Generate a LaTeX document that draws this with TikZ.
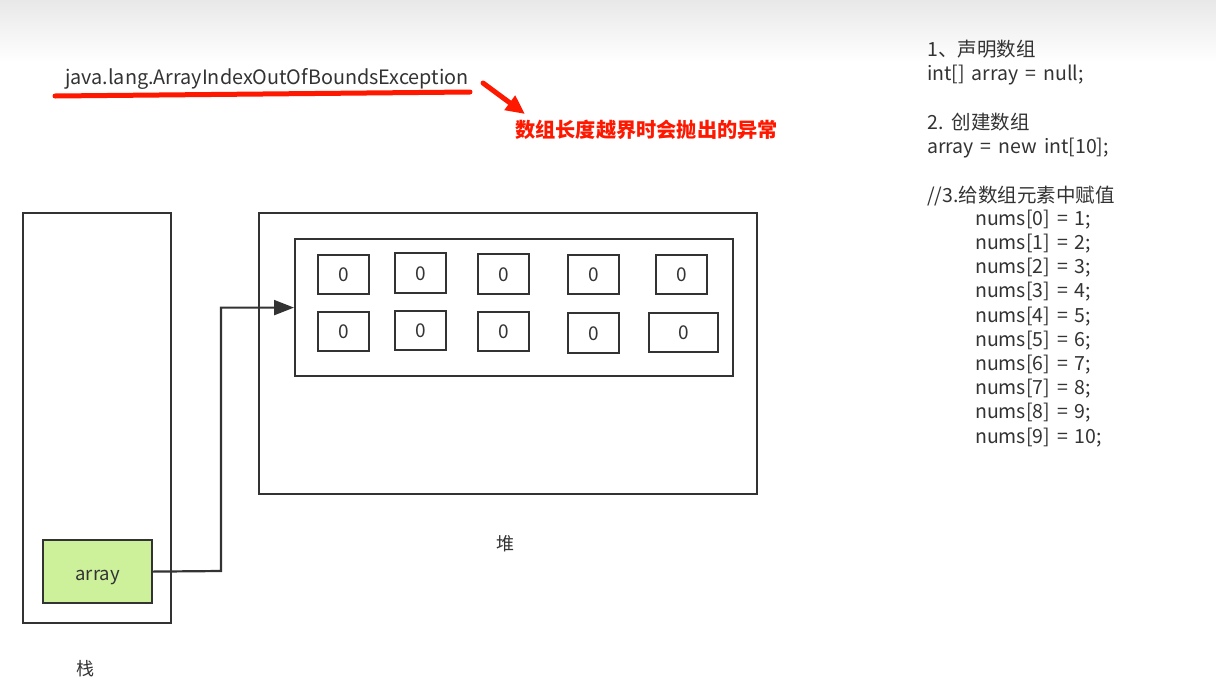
\documentclass[tikz,border=0pt]{standalone}
\usepackage{fontspec}
\setmainfont{Noto Sans CJK SC}
\newfontfamily\codefont[WordSpace=1.6]{Noto Sans CJK SC}
\usetikzlibrary{arrows.meta}
\definecolor{ink}{HTML}{333333}
\definecolor{redm}{HTML}{FF1800}
\definecolor{greenfill}{HTML}{CDF09B}
\tikzset{
  box/.style={draw=ink, line width=2.2pt, anchor=north west, inner sep=0pt},
  cell/.style={draw=ink, line width=2.2pt, anchor=north west, inner sep=0pt, font=\fontsize{19pt}{19pt}\selectfont, text=ink, text height=14pt, text depth=0pt},
  codetxt/.style={anchor=base west, inner sep=0pt, text=ink, font=\codefont\fontsize{19.5pt}{19.5pt}\selectfont},
  label/.style={inner sep=0pt, text=ink, font=\fontsize{18pt}{18pt}\selectfont},
}
\begin{document}
\begin{tikzpicture}[x=1pt,y=-1pt]
\useasboundingbox (0,0) rectangle (1216,694);
\fill[white] (0,0) rectangle (1216,694);
\shade[top color=black!9, bottom color=white] (0,0) rectangle (1216,62);

% exception text
\node[anchor=base west, inner sep=0pt, text=ink, font=\fontsize{19.8pt}{19.8pt}\selectfont] (exc) at (65,84) {java.lang.ArrayIndexOutOfBoundsException};
\coordinate (ul1) at (55,96);
\coordinate (ul2) at (470,92);
\draw[redm, line width=5pt, line cap=round] (ul1) -- (ul2);
\coordinate (ra1) at (483,83);
\coordinate (ra2) at (525,114);
\draw[redm, line width=5pt, line cap=round, -{Triangle[length=19pt,width=17pt]}] (ra1) -- (ra2);
\node[anchor=base west, inner sep=0pt, text=redm, font=\fontsize{20.2pt}{20.2pt}\selectfont\bfseries] (note) at (515,137) {数组长度越界时会抛出的异常};

% stack
\node[box, minimum width=148pt, minimum height=410pt] (stack) at (22,212) {};
\node[box, fill=greenfill, minimum width=109pt, minimum height=63pt, font=\fontsize{18.5pt}{18.5pt}\selectfont, text=ink, text height=17pt, text depth=0pt] (arr) at (42,539) {array};
\node[label] (stacklbl) at (85,669) {栈};

% heap
\node[box, minimum width=498pt, minimum height=281pt] (heap) at (258,212) {};
\node[box, minimum width=438pt, minimum height=137pt] (inner) at (294,238) {};
\node[label] (heaplbl) at (505,544) {堆};

% cells
\node[cell, minimum width=51pt, minimum height=39pt] (c0) at (317,254) {0};
\node[cell, minimum width=51pt, minimum height=40pt] (c1) at (394,252) {0};
\node[cell, minimum width=51pt, minimum height=40pt] (c2) at (477,253) {0};
\node[cell, minimum width=51pt, minimum height=39pt] (c3) at (567,254) {0};
\node[cell, minimum width=51pt, minimum height=39pt] (c4) at (655,254) {0};
\node[cell, minimum width=51pt, minimum height=39pt] (c5) at (317,311) {0};
\node[cell, minimum width=51pt, minimum height=39pt] (c6) at (394,310) {0};
\node[cell, minimum width=51pt, minimum height=39pt] (c7) at (477,311) {0};
\node[cell, minimum width=51pt, minimum height=40pt] (c8) at (567,312) {0};
\node[cell, minimum width=69pt, minimum height=39pt] (c9) at (648,312) {0};

% reference arrow
\coordinate (bend) at (221,571);
\draw[ink, line width=2.2pt, -{Triangle[length=20pt,width=15pt]}] (arr.east) -- (bend) |- (inner.west);

% code text
\node[codetxt] (t1) at (927,56) {1、声明数组};
\node[codetxt] (t2) at (927,80) {int[] array = null;};
\node[codetxt] (t3) at (927,129) {2. 创建数组};
\node[codetxt] (t4) at (927,153) {array = new int[10];};
\node[codetxt] (t5) at (927,202) {//3.给数组元素中赋值};
\node[codetxt] (n0) at (975,225) {nums[0] = 1;};
\node[codetxt] (n1) at (975,249) {nums[1] = 2;};
\node[codetxt] (n2) at (975,273) {nums[2] = 3;};
\node[codetxt] (n3) at (975,297) {nums[3] = 4;};
\node[codetxt] (n4) at (975,322) {nums[4] = 5;};
\node[codetxt] (n5) at (975,346) {nums[5] = 6;};
\node[codetxt] (n6) at (975,370) {nums[6] = 7;};
\node[codetxt] (n7) at (975,394) {nums[7] = 8;};
\node[codetxt] (n8) at (975,418) {nums[8] = 9;};
\node[codetxt] (n9) at (975,443) {nums[9] = 10;};
\end{tikzpicture}
\end{document}
